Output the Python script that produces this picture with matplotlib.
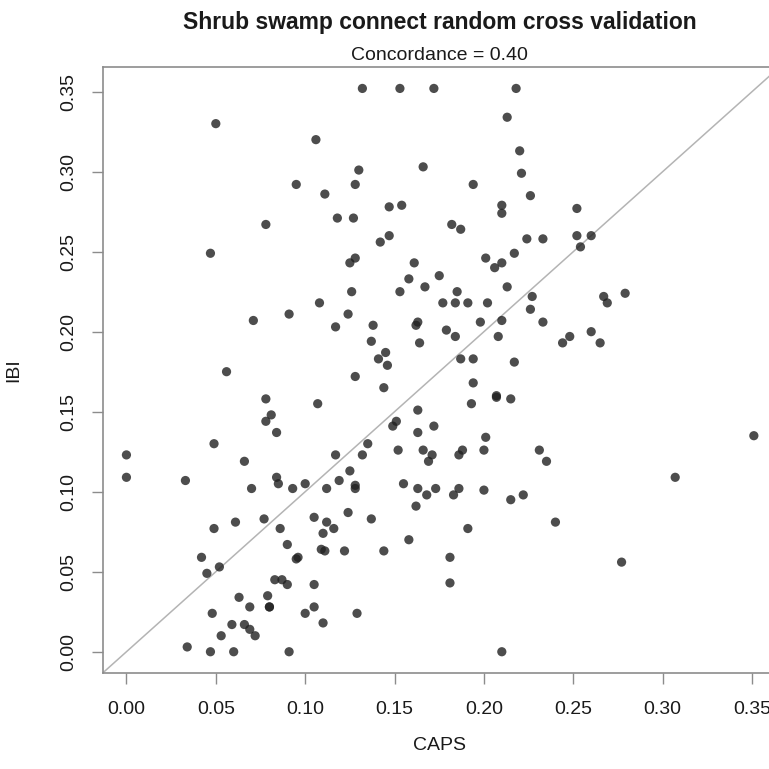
import matplotlib
matplotlib.use("Agg")
import matplotlib.pyplot as plt
import numpy as np

# CAPS (x) and IBI (y) values
caps = [
    0.050, 0.106, 0.095, 0.111, 0.078, 0.047,
    0.132, 0.153, 0.172, 0.218, 0.213, 0.220, 0.130, 0.166, 0.221, 0.128, 0.194, 0.226,
    0.147, 0.154, 0.210, 0.210, 0.118, 0.127, 0.182, 0.187, 0.147, 0.142, 0.224, 0.233,
    0.217, 0.128, 0.125, 0.161, 0.201, 0.210, 0.206,
    0.252, 0.252, 0.260, 0.254,
    0.108, 0.091, 0.071, 0.056, 0.078, 0.107, 0.081, 0.078, 0.084, 0.049, 0.000, 0.066,
    0.158, 0.175, 0.126, 0.153, 0.167, 0.185, 0.213, 0.177, 0.184, 0.191, 0.202, 0.227,
    0.226, 0.233, 0.124, 0.117, 0.138, 0.163, 0.162, 0.179, 0.184, 0.198, 0.210, 0.208,
    0.137, 0.164, 0.145, 0.141, 0.146, 0.187, 0.194, 0.217, 0.128, 0.144, 0.194, 0.207,
    0.207, 0.215, 0.193, 0.163, 0.151, 0.149, 0.172, 0.163, 0.201, 0.135, 0.117, 0.132,
    0.152, 0.166, 0.171, 0.169, 0.188, 0.186, 0.200, 0.231, 0.235, 0.125,
    0.267, 0.269, 0.279, 0.260, 0.248, 0.244, 0.265, 0.351,
    0.000, 0.033, 0.084, 0.085, 0.070, 0.093, 0.100, 0.112, 0.061, 0.077, 0.049, 0.086,
    0.105, 0.112, 0.110, 0.090, 0.109, 0.111, 0.042, 0.096, 0.095, 0.052, 0.045, 0.083,
    0.087, 0.090, 0.105, 0.079, 0.063, 0.069, 0.080, 0.080, 0.105, 0.100, 0.110, 0.048,
    0.059, 0.066, 0.069, 0.072, 0.053, 0.034, 0.047, 0.060, 0.091,
    0.119, 0.128, 0.128, 0.155, 0.163, 0.168, 0.173, 0.186, 0.183, 0.200, 0.215, 0.222,
    0.162, 0.124, 0.137, 0.116, 0.191, 0.158, 0.122, 0.144, 0.181, 0.181, 0.129, 0.210,
    0.307, 0.240, 0.277,
]
ibi = [
    0.330, 0.320, 0.292, 0.286, 0.267, 0.249,
    0.352, 0.352, 0.352, 0.352, 0.334, 0.313, 0.301, 0.303, 0.299, 0.292, 0.292, 0.285,
    0.278, 0.279, 0.279, 0.274, 0.271, 0.271, 0.267, 0.264, 0.260, 0.256, 0.258, 0.258,
    0.249, 0.246, 0.243, 0.243, 0.246, 0.243, 0.240,
    0.277, 0.260, 0.260, 0.253,
    0.218, 0.211, 0.207, 0.175, 0.158, 0.155, 0.148, 0.144, 0.137, 0.130, 0.123, 0.119,
    0.233, 0.235, 0.225, 0.225, 0.228, 0.225, 0.228, 0.218, 0.218, 0.218, 0.218, 0.222,
    0.214, 0.206, 0.211, 0.203, 0.204, 0.206, 0.204, 0.201, 0.197, 0.206, 0.207, 0.197,
    0.194, 0.193, 0.187, 0.183, 0.179, 0.183, 0.183, 0.181, 0.172, 0.165, 0.168, 0.160,
    0.159, 0.158, 0.155, 0.151, 0.144, 0.141, 0.141, 0.137, 0.134, 0.130, 0.123, 0.123,
    0.126, 0.126, 0.123, 0.119, 0.126, 0.123, 0.126, 0.126, 0.119, 0.113,
    0.222, 0.218, 0.224, 0.200, 0.197, 0.193, 0.193, 0.135,
    0.109, 0.107, 0.109, 0.105, 0.102, 0.102, 0.105, 0.102, 0.081, 0.083, 0.077, 0.077,
    0.084, 0.081, 0.074, 0.067, 0.064, 0.063, 0.059, 0.059, 0.058, 0.053, 0.049, 0.045,
    0.045, 0.042, 0.042, 0.035, 0.034, 0.028, 0.028, 0.028, 0.028, 0.024, 0.018, 0.024,
    0.017, 0.017, 0.014, 0.010, 0.010, 0.003, 0.000, 0.000, 0.000,
    0.107, 0.104, 0.102, 0.105, 0.102, 0.098, 0.102, 0.102, 0.098, 0.101, 0.095, 0.098,
    0.091, 0.087, 0.083, 0.077, 0.077, 0.070, 0.063, 0.063, 0.059, 0.043, 0.024, 0.000,
    0.109, 0.081, 0.056,
]
ticks = [0.00, 0.05, 0.10, 0.15, 0.20, 0.25, 0.30, 0.35]
concordance = 0.40

plt.rcParams["font.family"] = ["Liberation Sans", "DejaVu Sans"]

fig = plt.figure(figsize=(7.69, 7.69), dpi=100)
# plot region runs off the right edge, as in the reference
ax = fig.add_axes([0.1335, 0.1248, 0.8805, 0.7885])

ax.scatter(caps, ibi, s=44, color="#202020", alpha=0.8, edgecolors="none", zorder=3)
ax.plot([-1, 1], [-1, 1], color="#b4b4b4", linewidth=1.1, zorder=2)

ax.set_xlim(-0.0133, 0.3655)
ax.set_ylim(-0.0133, 0.3656)
ax.set_xticks(ticks)
ax.set_yticks(ticks)
ax.set_xticklabels([f"{t:.2f}" for t in ticks])
ax.set_yticklabels([f"{t:.2f}" for t in ticks], rotation=90, va="center")
for s in ax.spines.values():
    s.set_color("#8c8c8c")
    s.set_linewidth(1.2)
ax.tick_params(axis="both", direction="out", length=8, width=1, color="#8c8c8c",
               labelsize=14, labelcolor="#1a1a1a")
ax.tick_params(axis="x", pad=12)
ax.tick_params(axis="y", pad=10)

fig.text(0.572, 1 - 22 / 769, "Shrub swamp connect random cross validation",
         ha="center", va="center", fontsize=16.5, fontweight="bold", color="#1a1a1a")
fig.text(0.572, 1 - 56 / 769, f"Concordance = {concordance:.2f}",
         ha="center", va="center", fontsize=14, color="#1a1a1a")
fig.text(0.572, 1 - 745 / 769, "CAPS", ha="center", va="center", fontsize=14, color="#1a1a1a")
fig.text(14 / 769, 1 - 370 / 769, "IBI", ha="center", va="center", rotation=90,
         fontsize=14, color="#1a1a1a")

fig.savefig("out.png", dpi=100)
